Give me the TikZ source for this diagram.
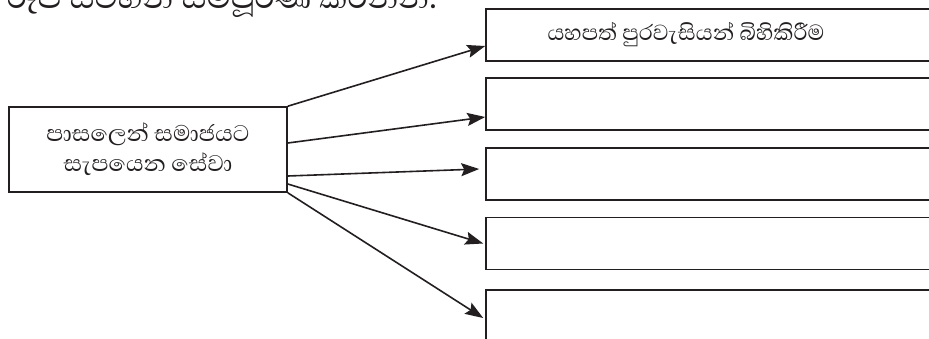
\documentclass[tikz,border=0pt]{standalone}
\usepackage{fontspec}
\newfontfamily\sinhala[Script=Sinhala]{Abhaya Libre}
\usetikzlibrary{arrows.meta}
\definecolor{ink}{HTML}{231F20}
\begin{document}
\begin{tikzpicture}[x=1pt,y=-1pt,
    inbox/.style={draw=ink, line width=1.6pt, align=center, inner sep=0pt,
      font=\sinhala\fontsize{29}{30}\selectfont, text=ink},
    outbox/.style={draw=ink, line width=1.6pt, minimum width=480pt, minimum height=52pt,
      inner sep=0pt, font=\sinhala\fontsize{28}{30}\selectfont, text=ink},
    link/.style={draw=ink, line width=1.6pt, -{Stealth[length=18pt,width=13pt,inset=3pt]}}]
    \useasboundingbox (0,0) rectangle (929,338);

    % heading, cut off at the top
    \node[anchor=base west, inner sep=0pt, text=ink, font=\sinhala\fontsize{40}{40}\selectfont]
      (head) at (-76,8) {පහත රූප සටහන සම්පූර්ණ කරන්න.};

    \node[inbox, minimum width=278pt, minimum height=85pt] (src) at (148,149.5)
      {පාසලෙන් සමාජයට\\සැපයෙන සේවා};

    \node[outbox] (b1) at (726,35) {\hspace*{-80pt}යහපත් පුරවැසියන් බිහිකිරීම};
    \node[outbox] (b2) at (726,104) {};
    \node[outbox] (b3) at (726,174) {};
    \node[outbox] (b4) at (726,243.5) {};
    \node[outbox] (b5) at (726,316) {};

    \draw[link] (src.north east) -- ([yshift=-11pt]b1.west);
    \draw[link] ([yshift=6.5pt]src.east) -- ([yshift=-13pt]b2.west);
    \draw[link] ([yshift=-26.5pt]src.east) -- ([xshift=-6pt,yshift=5pt]b3.west);
    \draw[link] ([yshift=-34.5pt]src.east) -- ([xshift=-2pt]b4.west);
    \draw[link] (src.south east) -- ([xshift=-2pt,yshift=-2pt]b5.west);
\end{tikzpicture}
\end{document}
